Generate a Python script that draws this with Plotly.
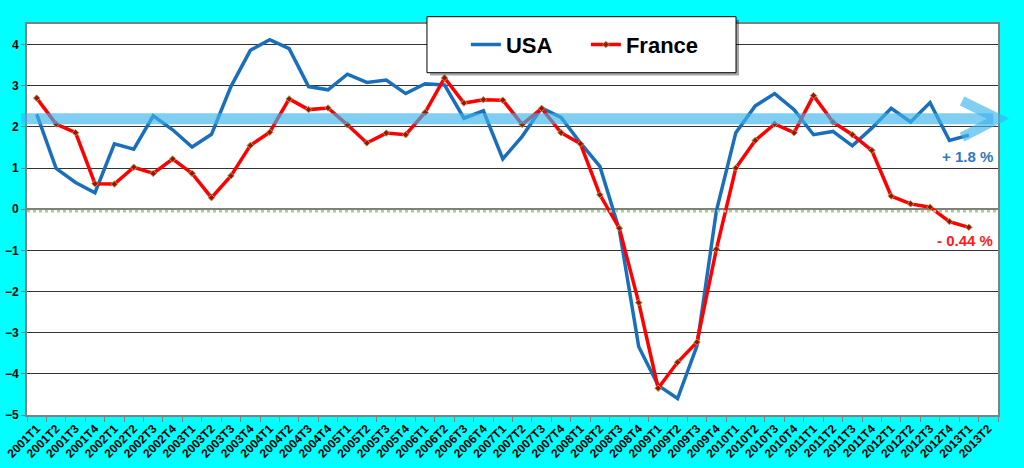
import plotly.graph_objects as go

# trimestres 2001T1 .. 2013T2
quarters = [f"{y}T{q}" for y in range(2001, 2014) for q in range(1, 5)][:50]

# croissance du PIB sur un an (%)
usa = [2.31, 0.99, 0.65, 0.40, 1.59, 1.46, 2.27, 1.93, 1.51, 1.82,
       2.98, 3.86, 4.12, 3.90, 2.98, 2.90, 3.28, 3.08, 3.14, 2.81,
       3.05, 3.02, 2.21, 2.39, 1.22, 1.77, 2.46, 2.23, 1.61, 1.04,
       -0.50, -3.34, -4.28, -4.60, -3.32, -0.04, 1.86, 2.51, 2.81, 2.42,
       1.81, 1.89, 1.54, 1.97, 2.45, 2.12, 2.59, 1.67, 1.80]
france = [2.70, 2.07, 1.86, 0.62, 0.61, 1.02, 0.87, 1.22, 0.87, 0.28,
          0.81, 1.55, 1.87, 2.68, 2.42, 2.46, 2.05, 1.61, 1.85, 1.81,
          2.35, 3.19, 2.58, 2.66, 2.65, 2.06, 2.45, 1.86, 1.59, 0.35,
          -0.46, -2.27, -4.35, -3.72, -3.23, -0.97, 1.00, 1.67, 2.07, 1.86,
          2.76, 2.12, 1.81, 1.43, 0.32, 0.13, 0.05, -0.30, -0.44]

trend_level = 2.2
usa_label = "+ 1.8 %"
france_label = "- 0.44 %"

BLUE = "#1a6fbd"
RED = "#ff0000"
ARROW = "rgba(60,180,235,0.65)"

fig = go.Figure()

fig.add_trace(go.Scatter(
    x=quarters[:len(usa)], y=usa, name="USA", mode="lines",
    line=dict(color=BLUE, width=3.5),
))
fig.add_trace(go.Scatter(
    x=quarters[:len(france)], y=france, name="France", mode="lines+markers",
    line=dict(color=RED, width=3.5),
    marker=dict(symbol="diamond", size=5, color="#a01010",
                line=dict(color="#b0a040", width=1)),
))

shapes = []
# cadre blanc de la legende + ombre
shapes.append(dict(type="rect", xref="paper", yref="paper",
                   x0=0.4150, x1=0.7333, y0=0.8680, y1=1.0110,
                   fillcolor="rgba(0,0,0,0.35)", line=dict(width=0), layer="above"))
shapes.append(dict(type="rect", xref="paper", yref="paper",
                   x0=0.4119, x1=0.7302, y0=0.8754, y1=1.0187,
                   fillcolor="white", line=dict(color="black", width=1), layer="above"))
# ligne pointillee verte sous le zero
shapes.append(dict(type="line", xref="paper", yref="y", ysizemode="pixel", yanchor=0,
                   x0=0, x1=1, y0=-2, y1=-2,
                   line=dict(color="#a6d47e", width=2.5, dash="dot"), layer="above"))
# grosse fleche de tendance
shapes.append(dict(type="line", xref="paper", yref="y",
                   x0=-0.006, x1=0.995, y0=trend_level, y1=trend_level,
                   line=dict(color=ARROW, width=11), layer="above"))
shapes.append(dict(type="path", xref="paper", yref="y",
                   path=f"M 0.963,{trend_level + 0.43} L 1.0,{trend_level} L 0.963,{trend_level - 0.45}",
                   line=dict(color=ARROW, width=10), layer="above"))

fig.update_layout(
    width=1024, height=468,
    paper_bgcolor="#00ffff", plot_bgcolor="white",
    margin=dict(l=27, r=26, t=24, b=53, autoexpand=False),
    font=dict(family="Arial, Liberation Sans, sans-serif", color="black"),
    shapes=shapes,
    showlegend=True,
    legend=dict(orientation="h", x=0.452, xanchor="left", y=0.947, yanchor="middle",
                bgcolor="rgba(0,0,0,0)", borderwidth=0,
                font=dict(size=22, family="Arial, Liberation Sans, sans-serif", weight="bold"),
                entrywidth=75, itemwidth=30),
    annotations=[
        dict(xref="paper", yref="y", x=0.997, y=1.29, xanchor="right", yanchor="middle",
             text=usa_label, showarrow=False,
             font=dict(size=15, color="#2e78c4", weight="bold")),
        dict(xref="paper", yref="y", x=0.997, y=-0.77, xanchor="right", yanchor="middle",
             text=france_label, showarrow=False,
             font=dict(size=15, color="#ff1a1a", weight="bold")),
    ],
)

fig.update_xaxes(
    type="category", categoryorder="array", categoryarray=quarters,
    range=[-0.5, len(quarters) - 0.5], automargin=False,
    tickson="boundaries", ticks="outside", ticklen=5, tickcolor="#808080",
    tickangle=-45, tickfont=dict(size=12, weight="bold"),
    showgrid=False, showline=True, linecolor="#808080", linewidth=2, mirror=True,
)
fig.update_yaxes(
    range=[-5, 4.5], dtick=1, tick0=0, automargin=False,
    ticks="outside", ticklen=4, tickcolor="#808080",
    tickfont=dict(size=12, weight="bold"),
    showgrid=True, gridcolor="#333333", gridwidth=1,
    zeroline=True, zerolinecolor="#808080", zerolinewidth=2,
    showline=True, linecolor="#808080", linewidth=2, mirror=True,
)

# pas de marge du navigateur autour du graphique, pas de barre d'outils
fig.write_html("out.html", config={"displayModeBar": False},
               post_script="document.body.style.margin='0';document.body.style.background='#00ffff';")
